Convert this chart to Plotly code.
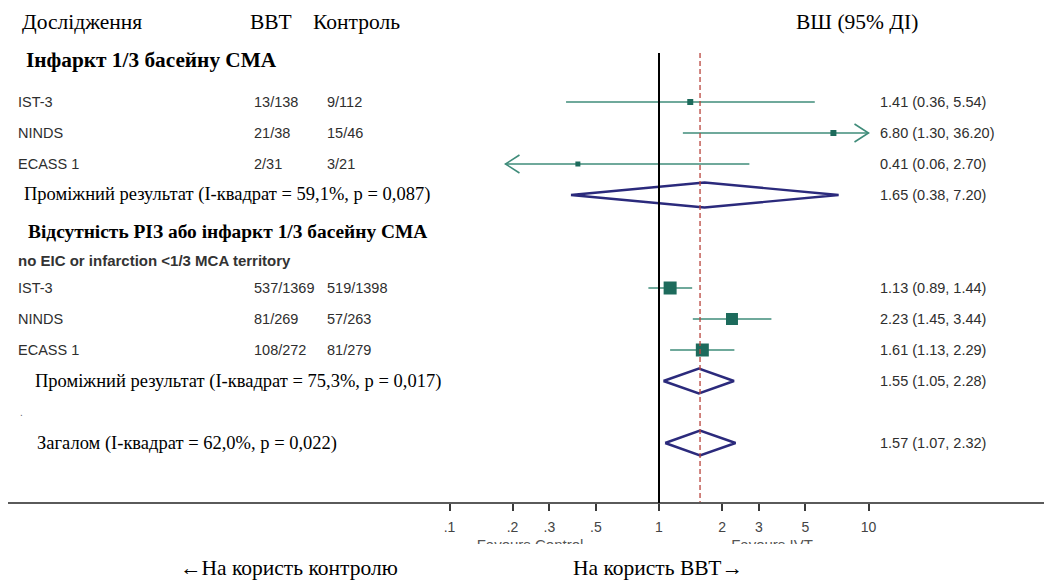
import plotly.graph_objects as go

# ---------------- data ----------------
STUDIES = ["IST-3", "NINDS", "ECASS 1"]

G1_IVT = ["13/138", "21/38", "2/31"]
G1_CTL = ["9/112", "15/46", "3/21"]
G1_OR = [1.41, 6.80, 0.41]
G1_LO = [0.36, 1.30, 0.06]
G1_HI = [5.54, 36.20, 2.70]
G1_SUB = [1.65, 0.38, 7.20]          # OR, lo, hi
G1_SUB_LABEL = "Проміжний результат (I-квадрат = 59,1%, p = 0,087)"

G2_IVT = ["537/1369", "81/269", "108/272"]
G2_CTL = ["519/1398", "57/263", "81/279"]
G2_OR = [1.13, 2.23, 1.61]
G2_LO = [0.89, 1.45, 1.13]
G2_HI = [1.44, 3.44, 2.29]
G2_SUB = [1.55, 1.05, 2.28]
G2_SUB_LABEL = "Проміжний результат (I-квадрат = 75,3%, p = 0,017)"

OVERALL = [1.57, 1.07, 2.32]
OVERALL_LABEL = "Загалом (I-квадрат = 62,0%, p = 0,022)"

CLIP = [0.185, 10]                    # display limits of the CI lines (arrows beyond)

TICK_VALS = [0.1, 0.2, 0.3, 0.5, 1, 2, 3, 5, 10]
TICK_TEXT = [".1", ".2", ".3", ".5", "1", "2", "3", "5", "10"]

HEADERS = ["Дослідження", "ВВТ", "Контроль", "ВШ (95% ДІ)"]
GROUP1_TITLE = "Інфаркт 1/3 басейну СМА"
GROUP2_TITLE = "Відсутність РІЗ або інфаркт 1/3 басейну СМА"
GROUP2_SUBTITLE = "no EIC or infarction <1/3 MCA territory"
FAVOURS_CUT = ["Favours Control", "Favours IVT"]
BOTTOM_LEFT = "←На користь контролю"
BOTTOM_RIGHT = "На користь ВВТ→"

# ---------------- styles / layout ----------------
W, H = 1044, 583
PX_DEC = 209.5        # pixels per decade
X1_PX = 659           # pixel of OR = 1
AX_LEFT_PX = 8
PLOT_BOTTOM_PX = 544
AXIS_PX = 503
ROW0_PX, ROW_STEP = 102, 31

G1_SIZES = [6, 6, 5]
G2_SIZES = [13, 12, 13]

SERIF = "Liberation Serif, Times New Roman, serif"
SANS = "Liberation Sans, Arial, sans-serif"
LINE_COL = "#3f8c7a"
SQ_COL = "#1d6b5c"
DIA_COL = "#2b2a7c"
RED = "#b8443c"
TXT_GRAY = "#2e2e2e"


def row_of(px):
    return (px - ROW0_PX) / ROW_STEP


def xp(px):
    return px / W


def yp(px):
    return (PLOT_BOTTOM_PX - px) / PLOT_BOTTOM_PX


x_range = [(AX_LEFT_PX - X1_PX) / PX_DEC, (W - X1_PX) / PX_DEC]
y_range = [row_of(PLOT_BOTTOM_PX), row_of(0)]

fig = go.Figure()

arrow_f = 10 ** (14 / PX_DEC)
arrow_dy = 9 / ROW_STEP


def add_study(r, orv, lo, hi, size):
    lo_d = max(lo, CLIP[0])
    hi_d = min(hi, CLIP[1])
    fig.add_trace(go.Scatter(x=[lo_d, hi_d], y=[r, r], mode="lines",
                             line=dict(color=LINE_COL, width=1.6),
                             hoverinfo="skip", showlegend=False))
    if lo < CLIP[0]:
        fig.add_trace(go.Scatter(x=[lo_d * arrow_f, lo_d, lo_d * arrow_f],
                                 y=[r - arrow_dy, r, r + arrow_dy], mode="lines",
                                 line=dict(color=LINE_COL, width=1.6),
                                 hoverinfo="skip", showlegend=False))
    if hi > CLIP[1]:
        fig.add_trace(go.Scatter(x=[hi_d / arrow_f, hi_d, hi_d / arrow_f],
                                 y=[r - arrow_dy, r, r + arrow_dy], mode="lines",
                                 line=dict(color=LINE_COL, width=1.6),
                                 hoverinfo="skip", showlegend=False))
    fig.add_trace(go.Scatter(x=[orv], y=[r], mode="markers",
                             marker=dict(symbol="square", size=size, color=SQ_COL,
                                         line=dict(width=0)),
                             hoverinfo="skip", showlegend=False))


def add_diamond(r, vals):
    orv, lo, hi = vals
    h = 12.5 / ROW_STEP
    fig.add_trace(go.Scatter(x=[lo, orv, hi, orv, lo], y=[r, r - h, r, r + h, r],
                             mode="lines", line=dict(color=DIA_COL, width=2.4),
                             hoverinfo="skip", showlegend=False))


def txt(x_px, y_px, text, font, size, color="black", anchor="left", bold=False):
    fig.add_annotation(x=xp(x_px), xref="paper", y=yp(y_px), yref="paper",
                       text=("<b>%s</b>" % text) if bold else text,
                       showarrow=False, xanchor=anchor, yanchor="middle",
                       font=dict(family=font, size=size, color=color))


def row_px(r):
    return ROW0_PX + r * ROW_STEP


def or_text(vals):
    return "%.2f (%.2f, %.2f)" % tuple(vals)


# vertical reference lines
fig.add_shape(type="line", xref="x", yref="y", x0=1, x1=1,
              y0=row_of(53), y1=row_of(AXIS_PX), line=dict(color="black", width=2))
fig.add_trace(go.Scatter(x=[OVERALL[0], OVERALL[0]], y=[row_of(53), row_of(AXIS_PX)],
                         xaxis="x2", mode="lines",
                         line=dict(color=RED, width=1.3, dash="5px,3px"),
                         hoverinfo="skip", showlegend=False))

SANS_SZ = 14.5
SUB_SZ = 18.5

# group 1
g1_rows = [0, 1, 2]
for i, r in enumerate(g1_rows):
    add_study(r, G1_OR[i], G1_LO[i], G1_HI[i], G1_SIZES[i])
    txt(16, row_px(r), STUDIES[i], SANS, SANS_SZ, TXT_GRAY)
    txt(252, row_px(r), G1_IVT[i], SANS, SANS_SZ, TXT_GRAY)
    txt(325, row_px(r), G1_CTL[i], SANS, SANS_SZ, TXT_GRAY)
    txt(878, row_px(r), or_text([G1_OR[i], G1_LO[i], G1_HI[i]]), SANS, SANS_SZ, TXT_GRAY)
add_diamond(3, G1_SUB)
txt(22, row_px(3), G1_SUB_LABEL, SERIF, SUB_SZ)
txt(878, row_px(3), or_text(G1_SUB), SANS, SANS_SZ, TXT_GRAY)

# group 2
g2_rows = [6, 7, 8]
for i, r in enumerate(g2_rows):
    add_study(r, G2_OR[i], G2_LO[i], G2_HI[i], G2_SIZES[i])
    txt(16, row_px(r), STUDIES[i], SANS, SANS_SZ, TXT_GRAY)
    txt(252, row_px(r), G2_IVT[i], SANS, SANS_SZ, TXT_GRAY)
    txt(325, row_px(r), G2_CTL[i], SANS, SANS_SZ, TXT_GRAY)
    txt(878, row_px(r), or_text([G2_OR[i], G2_LO[i], G2_HI[i]]), SANS, SANS_SZ, TXT_GRAY)
add_diamond(9, G2_SUB)
txt(33, row_px(9), G2_SUB_LABEL, SERIF, SUB_SZ)
txt(878, row_px(9), or_text(G2_SUB), SANS, SANS_SZ, TXT_GRAY)

txt(18, row_px(10), ".", SANS, 10, "#666")

add_diamond(11, OVERALL)
txt(35, row_px(11), OVERALL_LABEL, SERIF, SUB_SZ)
txt(878, row_px(11), or_text(OVERALL), SANS, SANS_SZ, TXT_GRAY)

# headers
HEAD_SZ = 21.5
txt(20, 22, HEADERS[0], SERIF, HEAD_SZ)
txt(248, 22, HEADERS[1], SERIF, HEAD_SZ)
txt(311, 22, HEADERS[2], SERIF, HEAD_SZ)
txt(857, 22, HEADERS[3], SERIF, HEAD_SZ, anchor="center")
txt(24, 60, GROUP1_TITLE, SERIF, 21.3, bold=True)
txt(26, 231, GROUP2_TITLE, SERIF, 19.4, bold=True)
txt(16, 260, GROUP2_SUBTITLE, SANS, 15, "#333", bold=True)

# cut-off "Favours" labels below the axis (clipped by the plot area)
fig.add_trace(go.Scatter(x=[10 ** ((530 - X1_PX) / PX_DEC), 10 ** ((772 - X1_PX) / PX_DEC)],
                         y=[row_of(PLOT_BOTTOM_PX + 2)] * 2, mode="text",
                         text=FAVOURS_CUT, textposition="middle center", cliponaxis=True,
                         textfont=dict(family=SANS, size=15, color="#555"),
                         hoverinfo="skip", showlegend=False))

# bottom labels
txt(289, 568, BOTTOM_LEFT, SERIF, 21.5, anchor="center")
txt(658, 568, BOTTOM_RIGHT, SERIF, 21.5, anchor="center")

dom = [AX_LEFT_PX / W, 1]
fig.update_layout(
    width=W, height=H,
    margin=dict(l=0, r=0, t=0, b=H - PLOT_BOTTOM_PX, pad=0),
    paper_bgcolor="white", plot_bgcolor="white",
    xaxis=dict(type="log", range=x_range, domain=dom, visible=False, fixedrange=True),
    xaxis2=dict(type="log", range=x_range, overlaying="x", anchor="free",
                position=(PLOT_BOTTOM_PX - AXIS_PX) / PLOT_BOTTOM_PX,
                showline=True, linecolor="#5a5a5a", linewidth=2.2,
                ticks="outside", ticklen=7, tickwidth=1.6, tickcolor="#3a3a3a",
                ticklabelstandoff=4,
                tickvals=TICK_VALS, ticktext=TICK_TEXT, showgrid=False, zeroline=False,
                tickfont=dict(family=SANS, size=14, color="#444"), fixedrange=True),
    yaxis=dict(range=y_range, visible=False, fixedrange=True, domain=[0, 1]),
)

fig.write_html("out.html")
